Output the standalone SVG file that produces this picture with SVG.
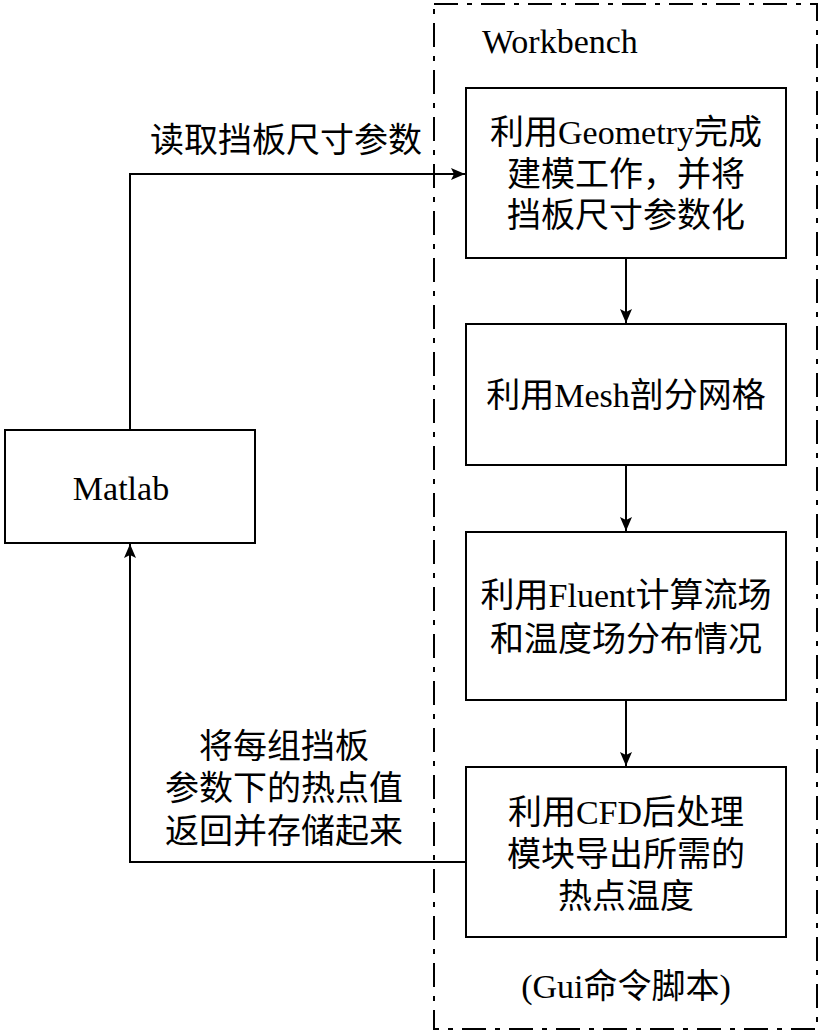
<svg xmlns="http://www.w3.org/2000/svg" width="822" height="1033" viewBox="0 0 822 1033">
<defs>
<marker id="arr" markerWidth="14" markerHeight="12" refX="14" refY="6" orient="auto" markerUnits="userSpaceOnUse">
<path d="M0,0 L14,6 L0,12 L3,6 Z" fill="#000"/>
</marker>
<style>
.box{fill:#fff;stroke:#000;stroke-width:2}
.frame{fill:none;stroke:#000;stroke-width:2;stroke-dasharray:24,9,5,9}
.conn{fill:none;stroke:#000;stroke-width:2}
text{font-family:"Liberation Serif","Noto Sans CJK SC",serif;font-size:34px;fill:#000}
.c{text-anchor:middle}
</style>
</defs>
<rect width="822" height="1033" fill="#fff"/>
<g id="workbench">
<rect class="frame" x="434" y="4" width="383" height="1025"/>
<text x="482" y="53" font-size="35">Workbench</text>
<text class="c" x="626" y="998">(Gui命令脚本)</text>
</g>
<g id="connectors">
<polyline class="conn" points="130,430 130,174 465,174" marker-end="url(#arr)"/>
<line class="conn" x1="626" y1="258" x2="626" y2="323" marker-end="url(#arr)"/>
<line class="conn" x1="626" y1="465" x2="626" y2="531" marker-end="url(#arr)"/>
<line class="conn" x1="626" y1="700" x2="626" y2="766" marker-end="url(#arr)"/>
<polyline class="conn" points="466,862 130,862 130,544" marker-end="url(#arr)"/>
<text class="c" x="286" y="152">读取挡板尺寸参数</text>
<text class="c" x="284" y="758">将每组挡板</text>
<text class="c" x="284" y="800">参数下的热点值</text>
<text class="c" x="284" y="843">返回并存储起来</text>
</g>
<g id="matlab">
<rect class="box" x="5" y="430" width="250" height="113"/>
<text class="c" x="121" y="500" font-size="35">Matlab</text>
</g>
<g id="geometry">
<rect class="box" x="466" y="88" width="320" height="170"/>
<text class="c" x="626" y="144">利用Geometry完成</text>
<text class="c" x="626" y="186">建模工作，并将</text>
<text class="c" x="626" y="227">挡板尺寸参数化</text>
</g>
<g id="mesh">
<rect class="box" x="466" y="324" width="320" height="141"/>
<text class="c" x="626" y="407">利用Mesh剖分网格</text>
</g>
<g id="fluent">
<rect class="box" x="466" y="532" width="320" height="168"/>
<text class="c" x="626" y="607">利用Fluent计算流场</text>
<text class="c" x="626" y="651">和温度场分布情况</text>
</g>
<g id="cfd">
<rect class="box" x="466" y="767" width="320" height="170"/>
<text class="c" x="626" y="824">利用CFD后处理</text>
<text class="c" x="626" y="866">模块导出所需的</text>
<text class="c" x="626" y="908">热点温度</text>
</g>
</svg>
